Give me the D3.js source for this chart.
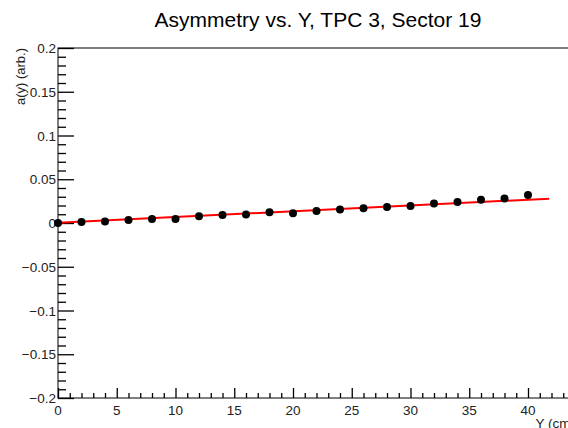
<!DOCTYPE html>
<html>
<head>
<meta charset="utf-8">
<script src="https://cdn.jsdelivr.net/npm/d3@7"></script>
<style>
  body { margin: 0; background: #fff; }
  text { font-family: "Liberation Sans", Arial, sans-serif; }
</style>
</head>
<body>
<svg id="chart"></svg>
<script>
// measured points: Y position (cm) and asymmetry
const yPos = [0, 2, 4, 6, 8, 10, 12, 14, 16, 18, 20, 22, 24, 26, 28, 30, 32, 34, 36, 38, 40]
const asym = [0, 0.0011, 0.0016, 0.0034, 0.0046, 0.0046, 0.0077, 0.0091, 0.0096, 0.0122, 0.0111,
              0.0137, 0.0153, 0.0168, 0.0183, 0.0194, 0.0222, 0.024, 0.0267, 0.0279, 0.032]

// linear fit drawn in red
const fitRange = [0, 41.8]
const fitIntercept = 0.0002
const fitSlope = 0.00066

const xMajorTicks = [0, 5, 10, 15, 20, 25, 30, 35, 40]
const yMajorTicks = [-0.2, -0.15, -0.1, -0.05, 0, 0.05, 0.1, 0.15, 0.2]

const titleText = 'Asymmetry vs. Y, TPC 3, Sector 19'
const xTitle = 'Y (cm)'
const yTitle = 'a(y) (arb.)'

const width = 568, height = 428
const margin = { top: 48, left: 58, bottom: 30 }
const plotRight = 575
const plotBottom = height - margin.bottom

const svg = d3.select('#chart')
    .attr('width', width)
    .attr('height', height)

const xScale = d3.scaleLinear()
    .domain([0, 44])
    .range([margin.left, plotRight])

const yScale = d3.scaleLinear()
    .domain([-0.2, 0.2])
    .range([plotBottom, margin.top])

const fmt = v => {
    if (v === 0) return '0'
    let s = d3.format('')(+v.toFixed(3))
    return s.replace('-', '\u2212')
}

// frame
svg.append('rect')
    .attr('x', margin.left)
    .attr('y', margin.top)
    .attr('width', plotRight - margin.left)
    .attr('height', plotBottom - margin.top)
    .attr('fill', 'none')
    .attr('stroke', '#000')
    .attr('stroke-width', 1)

// x axis: major + minor ticks
const xAxis = d3.axisTop(xScale)
    .tickValues(xMajorTicks)
    .tickSize(10)
    .tickFormat('')
const xMinor = d3.axisTop(xScale)
    .tickValues(d3.range(0, 45, 1).filter(v => v % 5 !== 0))
    .tickSize(5)
    .tickFormat('')

svg.append('g').attr('transform', `translate(0,${plotBottom})`).call(xAxis)
svg.append('g').attr('transform', `translate(0,${plotBottom})`).call(xMinor)

// y axis: major + minor ticks
const yAxis = d3.axisRight(yScale)
    .tickValues(yMajorTicks)
    .tickSize(16)
    .tickFormat('')
const yMinor = d3.axisRight(yScale)
    .tickValues(d3.range(-20, 21, 1).filter(v => v % 5 !== 0).map(v => v / 100))
    .tickSize(8)
    .tickFormat('')

svg.append('g').attr('transform', `translate(${margin.left},0)`).call(yAxis)
svg.append('g').attr('transform', `translate(${margin.left},0)`).call(yMinor)

svg.selectAll('.domain').remove()
svg.selectAll('.tick line').attr('stroke', '#000').attr('stroke-width', 1.3)

// tick labels
svg.append('g').selectAll('text')
    .data(xMajorTicks)
    .join('text')
    .attr('x', d => xScale(d))
    .attr('y', plotBottom + 17)
    .attr('text-anchor', 'middle')
    .attr('font-size', 13.5)
    .attr('fill', '#222')
    .text(d => fmt(d))

svg.append('g').selectAll('text')
    .data(yMajorTicks)
    .join('text')
    .attr('x', margin.left - 2)
    .attr('y', d => yScale(d) + 5)
    .attr('text-anchor', 'end')
    .attr('font-size', 13.5)
    .attr('fill', '#222')
    .text(d => fmt(d))

// fit line
const line = d3.line()
    .x(d => xScale(d))
    .y(d => yScale(fitIntercept + fitSlope * d))

svg.append('path')
    .datum(fitRange)
    .attr('d', line)
    .attr('fill', 'none')
    .attr('stroke', '#ff0000')
    .attr('stroke-width', 2)

// data points
svg.append('g').selectAll('circle')
    .data(yPos.map((x, i) => ({ x: x, y: asym[i] })))
    .join('circle')
    .attr('cx', d => xScale(d.x))
    .attr('cy', d => yScale(d.y))
    .attr('r', 4)
    .attr('fill', '#000')

// titles
svg.append('text')
    .attr('x', 318)
    .attr('y', 27)
    .attr('text-anchor', 'middle')
    .attr('font-size', 21)
    .attr('fill', '#000')
    .text(titleText)

svg.append('text')
    .attr('x', plotRight)
    .attr('y', plotBottom + 30)
    .attr('text-anchor', 'end')
    .attr('font-size', 13.5)
    .attr('fill', '#222')
    .text(xTitle)

svg.append('text')
    .attr('transform', `translate(25,${margin.top}) rotate(-90)`)
    .attr('text-anchor', 'end')
    .attr('font-size', 13)
    .attr('fill', '#222')
    .text(yTitle)
</script>
</body>
</html>
